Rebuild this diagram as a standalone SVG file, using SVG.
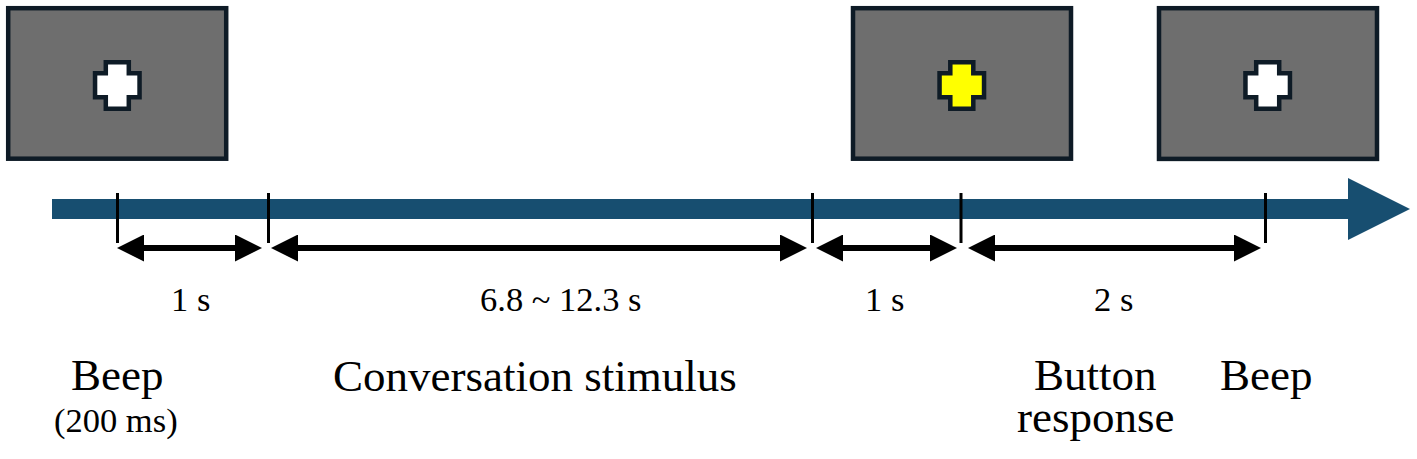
<svg xmlns="http://www.w3.org/2000/svg" width="1417" height="459" viewBox="0 0 1417 459">
<style>
.screen{fill:#6e6e6e;stroke:#0e1b26;stroke-width:4.5}
.cross{stroke:#0e1b26;stroke-width:4.5;stroke-linejoin:miter}
.tick{stroke:#000;stroke-width:3}
.dur{stroke:#000;stroke-width:6;fill:none}
.t{font-family:"Liberation Serif","Times New Roman",serif;fill:#000}
.small{font-size:34.5px}
.big{font-size:45px}
</style>
<defs>
<path id="crossShape" d="M-11.5,-23 h23 v11 h10.75 v24 h-10.75 v11.5 h-23 v-11.5 h-10.75 v-24 h10.75 z"/>
<marker id="ah" markerUnits="userSpaceOnUse" markerWidth="27" markerHeight="27" refX="19" refY="13.5" orient="auto-start-reverse" viewBox="0 0 27 27">
<path d="M0,0 L27,13.5 L0,27 z" fill="#000"/>
</marker>
</defs>
<rect width="1417" height="459" fill="#fff"/>
<g id="screen1">
<rect class="screen" x="8.2" y="8.2" width="218" height="150.5"/>
<use href="#crossShape" class="cross" fill="#fff" x="117.3" y="85.3"/>
</g>
<g id="screen2">
<rect class="screen" x="853" y="8.2" width="218" height="150.5"/>
<use href="#crossShape" class="cross" fill="#ffff00" x="961.8" y="85.3"/>
</g>
<g id="screen3">
<rect class="screen" x="1159" y="8.2" width="218" height="150.7"/>
<use href="#crossShape" class="cross" fill="#fff" x="1267.7" y="85.3"/>
</g>
<g id="timeline">
<polygon points="52,199 1348,199 1348,178 1410,209 1348,240 1348,219 52,219" fill="#174e70"/>
</g>
<g id="connectors">
<line class="tick" x1="117.5" y1="193" x2="117.5" y2="243"/>
<line class="tick" x1="268.5" y1="193" x2="268.5" y2="243"/>
<line class="tick" x1="812.5" y1="193" x2="812.5" y2="243"/>
<line class="tick" x1="961" y1="193" x2="961" y2="243"/>
<line class="tick" x1="1265.5" y1="193" x2="1265.5" y2="243"/>
<line class="dur" x1="125" y1="248" x2="254" y2="248" marker-start="url(#ah)" marker-end="url(#ah)"/>
<line class="dur" x1="279" y1="248" x2="799" y2="248" marker-start="url(#ah)" marker-end="url(#ah)"/>
<line class="dur" x1="824" y1="248" x2="949" y2="248" marker-start="url(#ah)" marker-end="url(#ah)"/>
<line class="dur" x1="976" y1="248" x2="1253" y2="248" marker-start="url(#ah)" marker-end="url(#ah)"/>
</g>
<g id="labels">
<text class="t small" x="171" y="311">1 s</text>
<text class="t small" x="480" y="311">6.8 ~ 12.3 s</text>
<text class="t small" x="865" y="311">1 s</text>
<text class="t small" x="1094" y="311">2 s</text>
<text class="t big" x="71" y="390">Beep</text>
<text class="t small" x="54" y="432">(200 ms)</text>
<text class="t big" x="333" y="391">Conversation stimulus</text>
<text class="t big" x="1034" y="390">Button</text>
<text class="t big" x="1017" y="432">response</text>
<text class="t big" x="1220" y="390">Beep</text>
</g>
</svg>
